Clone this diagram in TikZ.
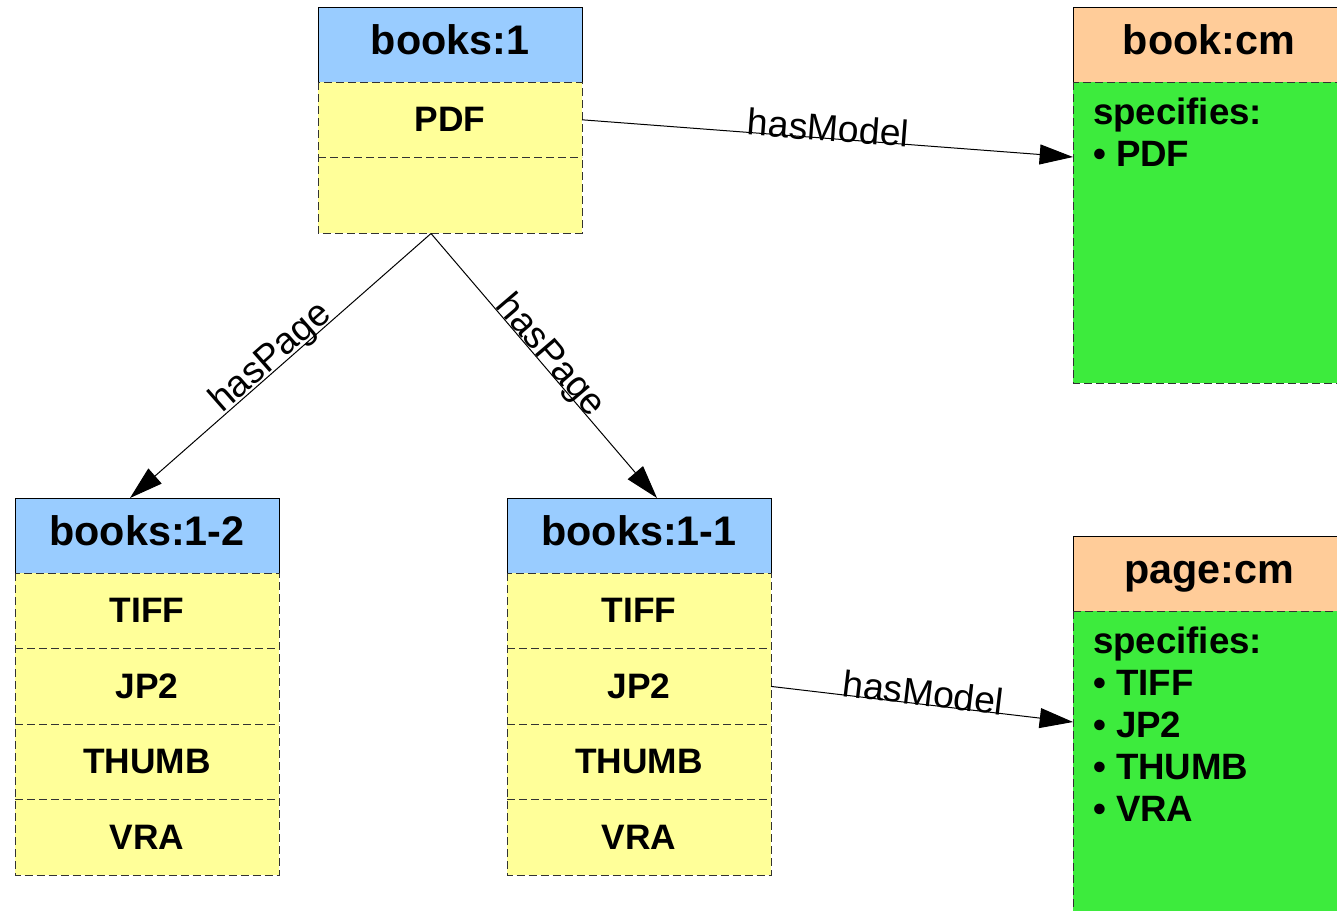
\documentclass[tikz,border=0pt]{standalone}
\usepackage{fontspec}
\setmainfont{Liberation Sans}
\usetikzlibrary{arrows.meta}
\definecolor{hdrblue}{RGB}{153,204,255}
\definecolor{rowyel}{RGB}{255,255,153}
\definecolor{hdrorange}{RGB}{255,204,153}
\definecolor{bodygreen}{RGB}{61,235,61}
\definecolor{dashgray}{RGB}{50,50,50}
\begin{document}
\begin{tikzpicture}[x=0.75pt,y=-0.75pt,
  every node/.style={inner sep=0pt, outer sep=0pt},
  hdr/.style={fill=hdrblue, minimum width=198pt, minimum height=56.5pt, anchor=north west, text height=23pt, text depth=8pt, font=\fontsize{31pt}{35pt}\selectfont\bfseries},
  cmhdr/.style={hdr, fill=hdrorange, minimum width=204pt},
  rowcell/.style={fill=rowyel, minimum width=198pt, minimum height=56.7pt, anchor=north west, font=\fontsize{26.5pt}{30pt}\selectfont\bfseries},
  body/.style={fill=bodygreen, minimum width=204pt, anchor=north west},
  bodytext/.style={anchor=north west, align=left, font=\fontsize{27.5pt}{31.5pt}\selectfont\bfseries},
  solidline/.style={draw=black, line width=0.75pt},
  dashline/.style={draw=dashgray, line width=0.75pt, dash pattern=on 6pt off 3pt},
  conn/.style={line width=0.75pt, -{Triangle[length=25pt,width=15pt]}},
  lbl/.style={font=\fontsize{28pt}{32pt}\selectfont, sloped}
]
\useasboundingbox (0,0) rectangle (1337,910);
\clip (0,0) rectangle (1337,910);
\fill[white] (0,0) rectangle (1337,910);

% books:1
\node[hdr] (b1) at (318,7) {books:1};
\node[rowcell] (b1pdf) at (318,82) {PDF};
\node[rowcell] (b1empty) at (318,157.5) {};
\draw[dashline] (b1pdf.north west) rectangle (b1empty.south east);
\draw[dashline] (b1pdf.south west) -- (b1pdf.south east);
\draw[solidline] (b1.south west) -- (b1.north west) -- (b1.north east) -- (b1.south east);

% book:cm
\node[cmhdr] (bcm) at (1073,7) {book:cm};
\node[body, minimum height=225.75pt] (bcmbody) at (1073,82) {};
\draw[dashline] (bcmbody.north west) rectangle (bcmbody.south east);
\draw[solidline] (bcm.south west) -- (bcm.north west) -- (bcm.north east) -- (bcm.south east);
\node[bodytext] (bcmtext) at (1093,98) {specifies:\\• PDF};

% books:1-2
\node[hdr] (b12) at (15,498) {books:1-2};
\node[rowcell] (b12a) at (15,573) {TIFF};
\node[rowcell] (b12b) at (15,648.6) {JP2};
\node[rowcell] (b12c) at (15,724.2) {THUMB};
\node[rowcell] (b12d) at (15,799.8) {VRA};
\draw[dashline] (b12a.north west) rectangle (b12d.south east);
\draw[dashline] (b12a.south west) -- (b12a.south east);
\draw[dashline] (b12b.south west) -- (b12b.south east);
\draw[dashline] (b12c.south west) -- (b12c.south east);
\draw[solidline] (b12.south west) -- (b12.north west) -- (b12.north east) -- (b12.south east);

% books:1-1
\node[hdr] (b11) at (507,498) {books:1-1};
\node[rowcell] (b11a) at (507,573) {TIFF};
\node[rowcell] (b11b) at (507,648.6) {JP2};
\node[rowcell] (b11c) at (507,724.2) {THUMB};
\node[rowcell] (b11d) at (507,799.8) {VRA};
\draw[dashline] (b11a.north west) rectangle (b11d.south east);
\draw[dashline] (b11a.south west) -- (b11a.south east);
\draw[dashline] (b11b.south west) -- (b11b.south east);
\draw[dashline] (b11c.south west) -- (b11c.south east);
\draw[solidline] (b11.south west) -- (b11.north west) -- (b11.north east) -- (b11.south east);

% page:cm
\node[cmhdr] (pcm) at (1073,536) {page:cm};
\node[body, minimum height=240pt] (pcmbody) at (1073,611) {};
\draw[dashline] (pcmbody.north west) rectangle (pcmbody.south east);
\draw[solidline] (pcm.south west) -- (pcm.north west) -- (pcm.north east) -- (pcm.south east);
\node[bodytext] (pcmtext) at (1093,627) {specifies:\\• TIFF\\• JP2\\• THUMB\\• VRA};

% connector end points
\coordinate (b1bot) at (431,233.5);
\coordinate (b12top) at (130,498);
\coordinate (b11top) at (657,498);
\coordinate (bcmin) at (1073,157);
\coordinate (pcmin) at (1073,722);

% connectors
\draw[conn] (b1bot) -- (b12top) node[lbl, pos=0.505, above=-4pt] (lp1) {hasPage};
\draw[conn] (b1bot) -- (b11top) node[lbl, pos=0.49, above=-5pt] (lp2) {hasPage};
\draw[conn] (b1pdf.east) -- (bcmin) node[lbl, midway, anchor=base, yshift=-2pt] (lm1) {hasModel};
\draw[conn] (b11b.east) -- (pcmin) node[lbl, midway, anchor=base, yshift=-1pt] (lm2) {hasModel};
\end{tikzpicture}
\end{document}
